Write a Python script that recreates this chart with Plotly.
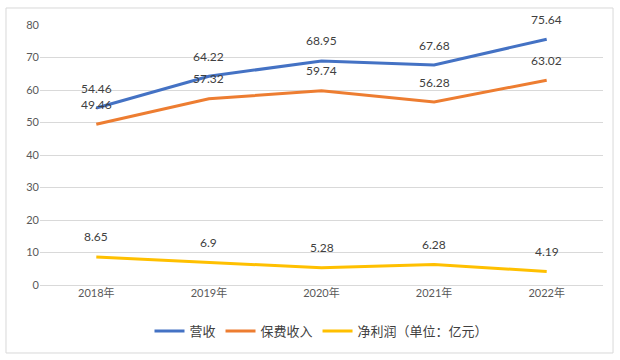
import plotly.graph_objects as go

years = ["2018年", "2019年", "2020年", "2021年", "2022年"]
revenue = [54.46, 64.22, 68.95, 67.68, 75.64]
premium = [49.46, 57.32, 59.74, 56.28, 63.02]
profit = [8.65, 6.9, 5.28, 6.28, 4.19]
series_names = ["营收", "保费收入", "净利润（单位：亿元）"]
colors = ["#4472C4", "#ED7D31", "#FFC000"]

FONT = "Lato, 'Noto Sans CJK SC', sans-serif"

fig = go.Figure()
annotations = []
for name, vals, c in zip(series_names, [revenue, premium, profit], colors):
    fig.add_trace(go.Scatter(x=years, y=vals, name=name, mode="lines",
                             line=dict(color=c, width=3)))
    for xv, yv in zip(years, vals):
        annotations.append(dict(x=xv, y=yv, xref="x", yref="y", text=f"{yv:g}",
                                showarrow=False, yshift=20,
                                font=dict(size=12, color="#404040", family=FONT)))

fig.update_layout(
    width=620, height=360,
    margin=dict(l=40, r=17, t=25, b=75, autoexpand=False),
    paper_bgcolor="white", plot_bgcolor="white",
    font=dict(family=FONT, color="#595959", size=11),
    showlegend=True,
    legend=dict(orientation="h", x=0.5, xanchor="center", y=-0.177, yanchor="middle",
                font=dict(size=13, color="#404040"), itemwidth=30,
                tracegroupgap=0),
    annotations=annotations,
    xaxis=dict(showgrid=False, showline=False, ticks="", tickfont=dict(size=11),
               range=[-0.5, 4.5], automargin=False),
    yaxis=dict(range=[0, 80], dtick=10, showgrid=True, gridcolor="#D9D9D9",
               gridwidth=1, zeroline=True, zerolinecolor="#D9D9D9", zerolinewidth=1,
               showline=False, ticks="", tickfont=dict(size=11), automargin=False),
    shapes=[dict(type="rect", xref="paper", yref="paper",
                 x0=-0.0604, x1=1.0178, y0=-0.2615, y1=1.0654,
                 line=dict(color="#D9D9D9", width=1), layer="below")],
)

fig.write_html("out.html", config={"displayModeBar": False},
               post_script="document.body.style.margin='0';")
